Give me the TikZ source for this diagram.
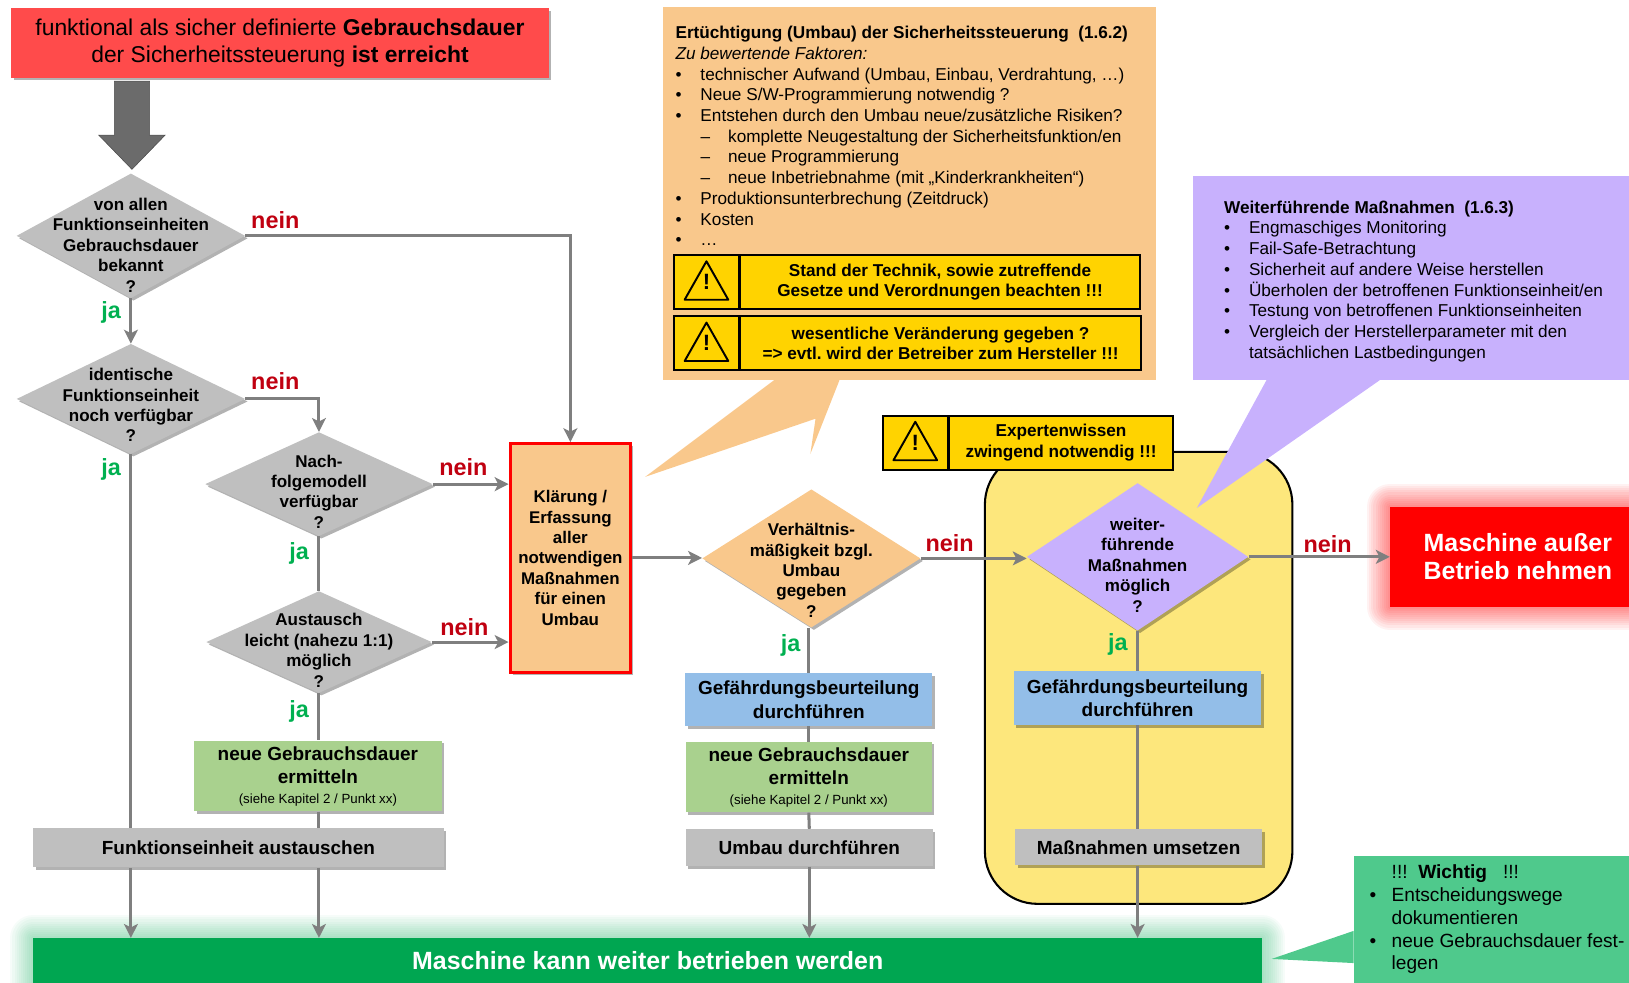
\documentclass[tikz,border=0pt]{standalone}
\usepackage{fontspec}
\setmainfont{Liberation Sans}
\usetikzlibrary{positioning,shapes.geometric,shadows,arrows.meta}
\definecolor{topred}{HTML}{FF4B4B}
\definecolor{boxgray}{HTML}{BFBFBF}
\definecolor{arrowgray}{HTML}{7F7F7F}
\definecolor{calorange}{HTML}{F9C88C}
\definecolor{calpurple}{HTML}{C8B1FD}
\definecolor{calgreen}{HTML}{4FC98C}
\definecolor{expyellow}{HTML}{FDE77C}
\definecolor{warnyellow}{HTML}{FFD300}
\definecolor{stepblue}{HTML}{93BEE8}
\definecolor{stepgreen}{HTML}{A9D18E}
\definecolor{barGreen}{HTML}{00A651}
\definecolor{neinred}{HTML}{C00010}
\definecolor{jagreen}{HTML}{00B050}
\newcommand{\fs}[2]{\fontsize{#1}{#2}\selectfont}
\newcommand{\bul}{\makebox[18pt][l]{•}}
\newcommand{\subbul}{\hspace*{18pt}\makebox[20pt][l]{–}}
\frenchspacing
\tikzset{
	boxsize/.style 2 args={minimum width=#1*0.75pt,minimum height=#2*0.75pt,inner sep=0pt},
	softshadow/.style={drop shadow={shadow xshift=1.8pt,shadow yshift=-1.8pt,opacity=0.3,fill=black}},
	dia/.style={diamond,boxsize={#1},softshadow},
	dtxt/.style={align=center,font=\bfseries\fs{12.3}{14.7pt}},
	stepbox/.style={align=center,softshadow,font=\bfseries\fs{13.7}{17pt}},
	flow/.style={draw=arrowgray,line width=2.2pt},
	flowarrow/.style={flow,-{Stealth[length=10pt,width=10pt,inset=2.5pt]}},
	nein/.style={text=neinred,font=\bfseries\fs{16.9}{18pt}},
	ja/.style={text=jagreen,font=\bfseries\fs{16.9}{18pt}},
	caltxt/.style={align=left,inner sep=0pt,anchor=north west,font=\fs{12.4}{14.95pt}},
	warnicon/.style={draw=black,line width=1.5pt,fill=warnyellow,minimum width=47pt,minimum height=#1*0.75pt,inner sep=0pt,
		font=\bfseries\fs{16}{16pt},
		path picture={\draw[line width=1.4pt,line join=round] (path picture bounding box.center) ++(0,20) -- ++(21,-37) -- ++(-42,0) -- cycle;}},
	warntxt/.style={draw=black,line width=1.5pt,fill=warnyellow,align=center,inner sep=0pt,font=\bfseries\fs{12.4}{15pt}}
}
\begin{document}
\begin{tikzpicture}[x=0.75pt,y=0.75pt,yscale=-1,xscale=1]
\clip (0,0) rectangle (1568,946);

% glow
\foreach \g in {4,8,...,44} {
	\draw[red,opacity=0.05,line width=\g*0.75pt,line join=round] (1338,488) rectangle (1600,584);
	\draw[barGreen,opacity=0.035,line width=\g*0.75pt,line join=round] (32,903) rectangle (1215,980);
}

\node[draw=black,line width=1.5pt,fill=expyellow,rounded corners=38pt,boxsize={296}{435}] (yel) at (1096,652.5) {};

\node[fill=topred,boxsize={517}{67},softshadow,align=center,font=\fs{16.5}{19.6pt}] (top) at (269.5,41.5) {funktional als sicher definierte \textbf{Gebrauchsdauer}\\der Sicherheitssteuerung \textbf{ist erreicht}};
\draw[draw=black!70,fill=black!58] (110,78) -- (144,78) -- (144,130) -- (159,130) -- (127,163) -- (95,130) -- (110,130) -- cycle;

\node[dia={220}{120},fill=boxgray] (d1) at (126,227) {};
\node[dtxt] (d1t) at (126,236) {von allen\\Funktionseinheiten\\Gebrauchsdauer\\bekannt\\?};
\node[dia={220}{106},fill=boxgray] (d2) at (126,384) {};
\node[dtxt] (d2t) at (126,390) {identische\\Funktionseinheit\\noch verfügbar\\?};
\node[dia={219}{100},fill=boxgray] (d3) at (307,466) {};
\node[dtxt] (d3t) at (307,473) {Nach-\\folgemodell\\verfügbar\\?};
\node[dia={217}{98},fill=boxgray] (d4) at (307,618) {};
\node[dtxt] (d4t) at (307,626) {Austausch\\leicht (nahezu 1:1)\\möglich\\?};

\node[fill=calorange,draw=red,line width=2.2pt,boxsize={116}{220},softshadow,align=center,font=\bfseries\fs{12.2}{14.7pt}] (kl) at (549,537) {Klärung /\\Erfassung\\aller\\notwendigen\\Maßnahmen\\für einen\\Umbau};

\node[stepbox,fill=stepgreen,boxsize={238}{68}] (g1) at (306,747) {neue Gebrauchsdauer\\ermitteln\\[-3pt]{\mdseries\fs{9.6}{10pt}(siehe Kapitel 2 / Punkt xx)}};
\node[stepbox,fill=boxgray,boxsize={395}{38}] (fe) at (229.5,816) {Funktionseinheit austauschen};

% callout left
\fill[calorange] (745,366) -- (621,459) -- (785,403) -- (780,437) -- (808,366) -- cycle;
\node[fill=calorange,boxsize={475}{359}] (co) at (875.5,186.5) {};
\node[caltxt] (cot) at (650,25) {\textbf{Ertüchtigung (Umbau) der Sicherheitssteuerung\ \ (1.6.2)}\\
\textit{Zu bewertende Faktoren:}\\
\bul technischer Aufwand (Umbau, Einbau, Verdrahtung, …)\\
\bul Neue S/W-Programmierung notwendig ?\\
\bul Entstehen durch den Umbau neue/zusätzliche Risiken?\\
\subbul komplette Neugestaltung der Sicherheitsfunktion/en\\
\subbul neue Programmierung\\
\subbul neue Inbetriebnahme (mit „Kinderkrankheiten“)\\
\bul Produktionsunterbrechung (Zeitdruck)\\
\bul Kosten\\
\bul …};
\node[warnicon=52] (w1i) at (680,271.5) {!};
\node[warntxt,boxsize={385}{52},right=-0.75pt of w1i] (w1t) {Stand der Technik, sowie zutreffende\\Gesetze und Verordnungen beachten !!!};
\node[warnicon=52] (w2i) at (680,330.5) {!};
\node[warntxt,boxsize={386}{52},right=-0.75pt of w2i] (w2t) {wesentliche Veränderung gegeben ?\\=> evtl. wird der Betreiber zum Hersteller !!!};

% callout right
\fill[calpurple] (1219,366) -- (1152,489) -- (1328,366) -- cycle;
\node[fill=calpurple,boxsize={420}{197}] (cp) at (1358,267.5) {};
\node[caltxt] (cpt) at (1178,193) {\textbf{Weiterführende Maßnahmen\ \ (1.6.3)}\\
\bul Engmaschiges Monitoring\\
\bul Fail-Safe-Betrachtung\\
\bul Sicherheit auf andere Weise herstellen\\
\bul Überholen der betroffenen Funktionseinheit/en\\
\bul Testung von betroffenen Funktionseinheiten\\
\bul Vergleich der Herstellerparameter mit den\\
\hspace*{18pt}tatsächlichen Lastbedingungen};

\node[warnicon=52] (w3i) at (881,426) {!};
\node[warntxt,boxsize={216}{52},right=-0.75pt of w3i] (w3t) {Expertenwissen\\zwingend notwendig !!!};

\node[dia={210}{133},fill=calorange] (d5) at (781,537.5) {};
\node[dtxt] (d5t) at (781,549) {Verhältnis-\\mäßigkeit bzgl.\\Umbau\\gegeben\\?};
\node[dia={213}{142},fill=calpurple] (d6) at (1095,536) {};
\node[dtxt] (d6t) at (1095,544) {weiter-\\führende\\Maßnahmen\\möglich\\?};

\node[stepbox,fill=stepblue,boxsize={238}{51}] (b5) at (778.5,673.5) {Gefährdungsbeurteilung\\durchführen};
\node[stepbox,fill=stepgreen,boxsize={237}{68}] (g5) at (778.5,748) {neue Gebrauchsdauer\\ermitteln\\[-3pt]{\mdseries\fs{9.6}{10pt}(siehe Kapitel 2 / Punkt xx)}};
\node[stepbox,fill=boxgray,boxsize={238}{36}] (u5) at (779,816) {Umbau durchführen};
\node[stepbox,fill=stepblue,boxsize={238}{52}] (b6) at (1095,672) {Gefährdungsbeurteilung\\durchführen};
\node[stepbox,fill=boxgray,boxsize={238}{35}] (m6) at (1096,815.5) {Maßnahmen umsetzen};

\node[fill=red,boxsize={230}{96},align=center,text=white,font=\bfseries\fs{18}{20pt}] (mr) at (1453,536) {\hspace*{12pt}Maschine außer\\\hspace*{12pt}Betrieb nehmen};
\node[fill=barGreen,boxsize={1183}{43},align=center,text=white,font=\bfseries\fs{18}{20pt}] (bar) at (623.5,924.5) {Maschine kann weiter betrieben werden};

% callout bottom
\fill[calgreen] (1303,896) -- (1224,923) -- (1303,927) -- cycle;
\node[fill=calgreen,boxsize={265}{122}] (cg) at (1435.5,885) {};
\node[caltxt,font=\fs{13.8}{16.5pt}] (cgt) at (1318,832) {\hspace*{16pt}!!!\ \ \textbf{Wichtig}\ \ \ !!!\\
\makebox[16pt][l]{•}Entscheidungswege\\
\hspace*{16pt}dokumentieren\\
\makebox[16pt][l]{•}neue Gebrauchsdauer fest-\\
\hspace*{16pt}legen};

\node[nein] (n1) at (265,212) {nein};
\node[nein] (n2) at (265,367) {nein};
\node[nein] (n3) at (446,450) {nein};
\node[nein] (n4) at (447,604) {nein};
\node[nein] (n5) at (914,523) {nein};
\node[nein] (n6) at (1278,524) {nein};
\node[ja] (j1) at (107,301) {ja};
\node[ja] (j2) at (107,452) {ja};
\node[ja] (j3) at (288,533) {ja};
\node[ja] (j4) at (288,685) {ja};
\node[ja] (j5) at (761,621) {ja};
\node[ja] (j6) at (1076,620) {ja};

\draw[flowarrow] (d1.east) -| (kl.north);
\draw[flowarrow] (d1.south) -- (d2.north);
\draw[flowarrow] (d2.east) -| (d3.north);
\draw[flow] (d2.south) -- (d2.south |- fe.north);
\draw[flowarrow] (d3.east) -- (d3.east -| kl.west);
\draw[flow] (d3.south) -- (d4.north);
\draw[flowarrow] (d4.east) -- (d4.east -| kl.west);
\draw[flow] (d4.south) -- (d4.south |- g1.north);
\draw[flow] (d4.south |- g1.south) -- (d4.south |- fe.north);
\draw[flowarrow] (d2.south |- fe.south) -- (d2.south |- bar.north);
\draw[flowarrow] (d4.south |- fe.south) -- (d4.south |- bar.north);
\draw[flowarrow] (kl.east) -- (kl.east -| d5.west);
\draw[flowarrow] (d5.east) -- (d5.east -| d6.west);
\draw[flowarrow] (d6.east) -- (d6.east -| mr.west);
\draw[flow] (b5.north |- d5.south) -- (b5.north);
\draw[flow] (b5.south) -- (g5.north);
\draw[flow] (g5.south) -- (u5.north);
\draw[flowarrow] (u5.south) -- (u5.south |- bar.north);
\draw[flow] (d6.south) -- (b6.north);
\draw[flow] (b6.south) -- (b6.south |- m6.north);
\draw[flowarrow] (b6.south |- m6.south) -- (b6.south |- bar.north);
\end{tikzpicture}
\end{document}
